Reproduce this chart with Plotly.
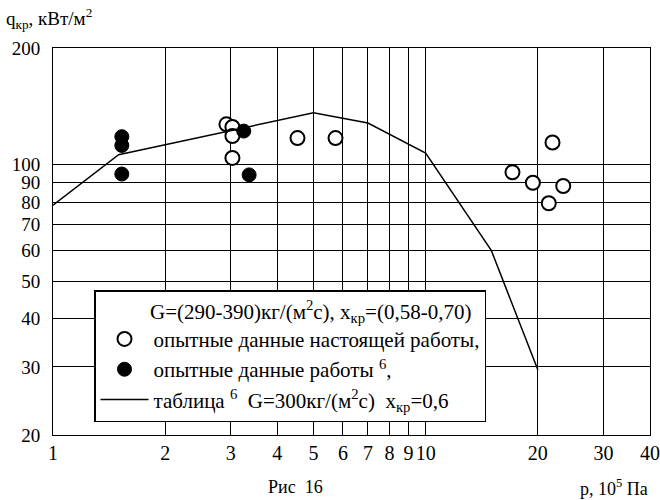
import plotly.graph_objects as go
import math

# Experimental data of the present work (open circles)
p_present = [2.92, 3.03, 3.03, 3.03, 4.53, 5.73, 17.1, 19.4, 21.4, 21.9, 23.4]
q_present = [127, 125, 118.5, 104, 117, 117, 95.5, 89.7, 79.4, 114, 88]

# Experimental data of work [6] (filled circles)
p_ref = [1.53, 1.53, 1.53, 3.25, 3.36]
q_ref = [118, 112, 94.5, 122, 94]

# Table [6], G=300, x=0.6 (line)
p_table = [1, 1.5, 5, 7, 10, 15, 20]
q_table = [78.5, 106, 136, 128, 107, 60, 29.5]

x_ticks = [1, 2, 3, 4, 5, 6, 7, 8, 9, 10, 20, 30, 40]
y_ticks = [20, 30, 40, 50, 60, 70, 80, 90, 100, 200]

FONT = "Liberation Serif"

fig = go.Figure()
fig.add_trace(go.Scatter(
    x=p_present, y=q_present, mode="markers",
    name="опытные данные настоящей работы,", legendgroup="a",
    marker=dict(symbol="circle", size=14, color="white",
                line=dict(color="black", width=2)),
))
fig.add_trace(go.Scatter(
    x=p_ref, y=q_ref, mode="markers",
    name="опытные данные работы <sup>6</sup>,", legendgroup="b",
    marker=dict(symbol="circle", size=14, color="black",
                line=dict(color="black", width=1)),
))
fig.add_trace(go.Scatter(
    x=p_table, y=q_table, mode="lines",
    name="таблица <sup>6</sup>  G=300кг/(м<sup>2</sup>с)  x<sub>кр</sub>=0,6",
    legendgroup="c",
    line=dict(color="black", width=1.5),
))

fig.update_layout(
    width=660, height=500,
    margin=dict(l=53, r=10, t=48, b=65, autoexpand=False),
    paper_bgcolor="white", plot_bgcolor="white",
    font=dict(family=FONT, size=19, color="black"),
    showlegend=True,
    legend=dict(
        x=(94 - 53) / 597, y=(435 - 290) / 387, xanchor="left", yanchor="top",
        bgcolor="white", bordercolor="black", borderwidth=1.5,
        font=dict(family=FONT, size=21, color="black"),
        title=dict(text="\u00a0" * 10 + "G=(290-390)кг/(м<sup>2</sup>с), x<sub>кр</sub>=(0,58-0,70)",
                   font=dict(family=FONT, size=21, color="black"), side="top"),
        itemwidth=48, tracegroupgap=3, traceorder="normal",
    ),
    xaxis=dict(
        type="log", range=[0, math.log10(40)],
        tickvals=x_ticks, ticktext=[str(v) for v in x_ticks],
        showgrid=True, gridcolor="black", gridwidth=1,
        showline=True, linecolor="black", linewidth=1, mirror=True,
        ticks="", ticklabelstandoff=0, zeroline=False, tickangle=0,
        automargin=False,
        tickfont=dict(family=FONT, size=20, color="black"),
    ),
    yaxis=dict(
        type="log", range=[math.log10(20), math.log10(200)],
        tickvals=y_ticks, ticktext=[str(v) for v in y_ticks],
        showgrid=True, gridcolor="black", gridwidth=1,
        showline=True, linecolor="black", linewidth=1, mirror=True,
        ticks="", ticklabelstandoff=8, zeroline=False, automargin=False,
        tickfont=dict(family=FONT, size=19, color="black"),
    ),
    annotations=[
        dict(text="q<sub>кр</sub>, кВт/м<sup>2</sup>", xref="paper", yref="paper",
             x=(4 - 53) / 597, y=(435 - 18) / 387, xanchor="left", yanchor="middle",
             showarrow=False, font=dict(family=FONT, size=19, color="black")),
        dict(text="Рис  16", xref="paper", yref="paper",
             x=(295 - 53) / 597, y=(435 - 487) / 387, xanchor="center", yanchor="middle",
             showarrow=False, font=dict(family=FONT, size=18, color="black")),
        dict(text="p, 10<sup>5</sup> Па", xref="paper", yref="paper",
             x=1.0, y=(435 - 487) / 387, xanchor="right", yanchor="middle",
             showarrow=False, font=dict(family=FONT, size=18, color="black")),
    ],
)

fig.write_html("out.html", config={"displayModeBar": False},
               post_script="document.body.style.margin='0';")
